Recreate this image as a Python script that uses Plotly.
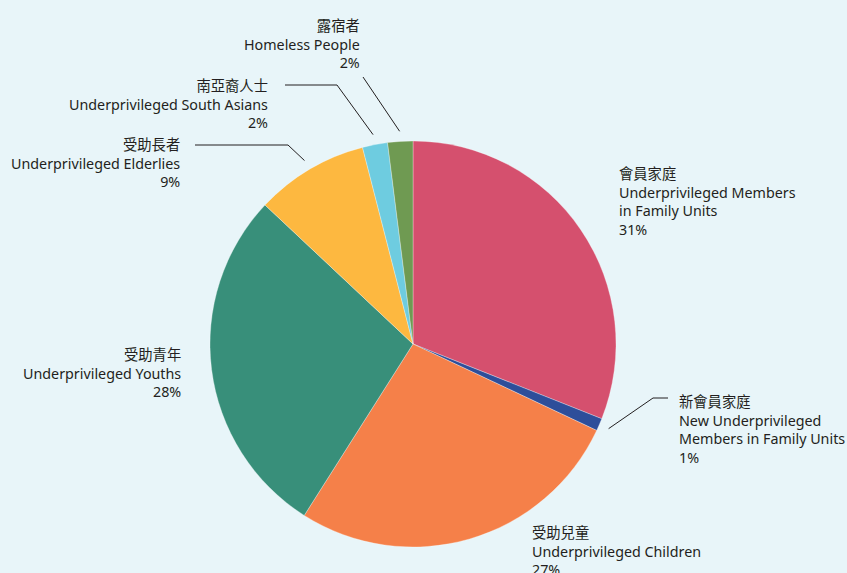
import math
import plotly.graph_objects as go

# ---- data ----
names_zh = ["會員家庭", "新會員家庭", "受助兒童", "受助青年", "受助長者", "南亞裔人士", "露宿者"]
names_en = ["Underprivileged Members<br>in Family Units",
            "New Underprivileged<br>Members in Family Units",
            "Underprivileged Children",
            "Underprivileged Youths",
            "Underprivileged Elderlies",
            "Underprivileged South Asians",
            "Homeless People"]
values = [31, 1, 27, 28, 9, 2, 2]
colors = ["#D5506E", "#2E4E9A", "#F58049", "#388F7A", "#FDB840", "#6ECCE0", "#6F9A52"]

W, H = 847, 573
BG = "#E8F5F9"
CX, CY, R = 413, 344, 203


def px(x):
    return x / W


def py(y):
    return 1 - y / H


fig = go.Figure(go.Pie(
    values=values,
    labels=names_zh,
    sort=False,
    direction="clockwise",
    rotation=0,
    textinfo="none",
    hoverinfo="label+percent",
    marker=dict(colors=colors, line=dict(color="rgba(255,255,255,0.5)", width=0.6)),
    domain=dict(x=[px(CX - R), px(CX + R)], y=[py(CY + R), py(CY - R)]),
    showlegend=False,
))

# label layout: (x, y-middle, anchor, elbow points or None)
label_layout = [
    (617, 201.5, "left", None),
    (677, 429.5, "left", [(668, 398), (653, 398)]),
    (530, 551, "left", None),
    (183, 372.5, "right", None),
    (182, 163, "right", [(195, 145), (288, 145)]),
    (270, 104, "right", [(285, 85), (337, 85)]),
    (362, 43.5, "right", [(363, 77)]),
]

total = sum(values)
cum = 0
annotations = []
shapes = []
for i, v in enumerate(values):
    mid = (cum + v / 2) / total * 2 * math.pi
    cum += v
    x, y, anchor, elbow = label_layout[i]
    pct = round(v / total * 100)
    text = f"{names_zh[i]}<br>{names_en[i]}<br>{pct}%"
    annotations.append(dict(
        x=px(x), y=py(y), xref="paper", yref="paper",
        text=text, showarrow=False, xanchor=anchor, yanchor="middle",
        align=anchor, font=dict(size=14.3, color="#231F20",
                                family="Noto Sans, Noto Sans CJK TC, sans-serif"),
    ))
    if elbow:
        ex = CX + 1.05 * R * math.sin(mid)
        ey = CY - 1.05 * R * math.cos(mid)
        pts = elbow + [(ex, ey)]
        path = "M " + " L ".join(f"{px(a)},{py(b)}" for a, b in pts)
        shapes.append(dict(type="path", xref="paper", yref="paper", path=path,
                           line=dict(color="#231F20", width=1)))

fig.update_layout(
    width=W, height=H,
    margin=dict(l=0, r=0, t=0, b=0),
    paper_bgcolor=BG, plot_bgcolor=BG,
    annotations=annotations,
    shapes=shapes,
)

fig.write_html("out.html",
               config={"displayModeBar": False},
               post_script="document.body.style.margin='0';document.body.style.overflow='hidden';")
